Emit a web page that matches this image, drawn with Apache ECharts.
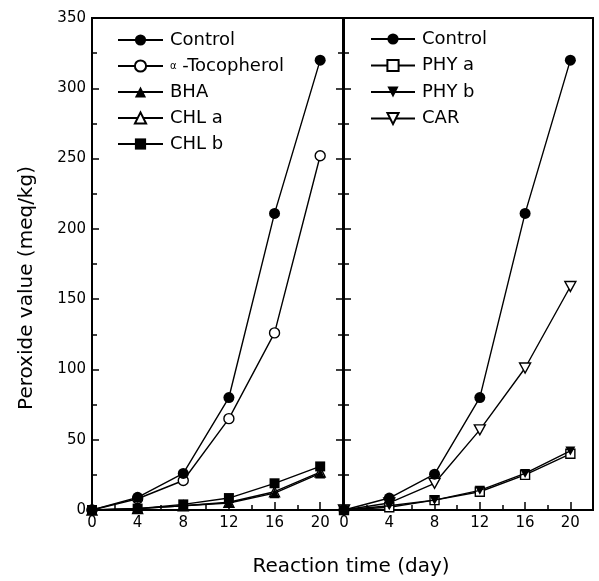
<!DOCTYPE html>
<html>
<head>
<meta charset="utf-8">
<script src="https://cdn.jsdelivr.net/npm/echarts@6/dist/echarts.min.js"></script>
<style>
  html, body { margin: 0; padding: 0; background: #fff; }
  #main { width: 599px; height: 581px; }
</style>
</head>
<body>
<div id="main"></div>
<script>
// reaction days
var days = [0, 4, 8, 12, 16, 20];

// left panel
var control = [0, 9, 26, 80, 211, 320];
var tocopherol = [0, 8, 21, 65, 126, 252];
var bha = [0, 1, 3, 5, 12, 26];
var chlA = [0, 1, 3, 5.5, 13, 27];
var chlB = [0, 1, 4, 8.5, 19, 31];

// right panel
var control2 = [0, 8.5, 25.5, 80, 211, 320];
var phyA = [0, 2, 7, 13, 25, 40];
var phyB = [0, 3, 7, 14, 26, 42];
var car = [0, 5, 19, 57, 101, 159];

var yTicks = [0, 50, 100, 150, 200, 250, 300, 350];
var xTicks = [0, 4, 8, 12, 16, 20];

var invTri = 'path://M0,0L10,0L5,9Z';
var font = 'DejaVu Sans';

function pairs(vals) {
    return days.map(function (d, i) { return [d, vals[i]]; });
}

function mkSeries(name, vals, grid, symbol, hollow, size) {
    return {
        name: name,
        type: 'line',
        xAxisIndex: grid,
        yAxisIndex: grid * 2,
        data: pairs(vals),
        symbol: symbol,
        symbolSize: size || 10,
        symbolKeepAspect: true,
        lineStyle: { color: '#000', width: 1.4 },
        itemStyle: hollow
            ? { color: '#fff', borderColor: '#000', borderWidth: 1.4 }
            : { color: '#000', borderColor: '#000', borderWidth: 0 },
        emphasis: { disabled: true },
        z: hollow ? 3 : 4
    };
}

var chart = echarts.init(document.getElementById('main'));

function xAxisFor(grid) {
    return {
        type: 'value',
        gridIndex: grid,
        min: 0,
        max: 22,
        interval: 4,
        axisLine: { show: true, onZero: false, lineStyle: { color: '#000', width: 2 } },
        axisTick: { show: true, inside: true, length: 8, lineStyle: { color: '#000', width: 1.5 } },
        minorTick: { show: true, splitNumber: 2, length: 5, lineStyle: { color: '#000', width: 1.5 } },
        splitLine: { show: false },
        axisLabel: {
            color: '#000', fontFamily: font, fontSize: 15, margin: 6,
            formatter: function (v) { return xTicks.indexOf(v) >= 0 ? String(v) : ''; }
        }
    };
}

function yAxisFor(grid, position, labels, ticks) {
    return {
        type: 'value',
        gridIndex: grid,
        position: position,
        min: yTicks[0],
        max: yTicks[yTicks.length - 1],
        interval: 50,
        axisLine: { show: true, lineStyle: { color: '#000', width: 2 } },
        axisTick: { show: ticks, inside: true, length: 7, lineStyle: { color: '#000', width: 1.5 } },
        minorTick: { show: ticks, splitNumber: 2, length: 5, lineStyle: { color: '#000', width: 1.5 } },
        splitLine: { show: false },
        axisLabel: { show: labels, color: '#000', fontFamily: font, fontSize: 15, margin: 6 }
    };
}

var legendText = {
    color: '#000', fontFamily: font, fontSize: 18, padding: [0, 0, 0, 2],
    rich: { a: { fontSize: 10, fontFamily: font, color: '#000' } }
};

chart.setOption({
    animation: false,
    backgroundColor: '#fff',
    grid: [
        { left: 92, top: 18, width: 251, height: 492, show: true, borderColor: '#000', borderWidth: 2 },
        { left: 344, top: 18, width: 249, height: 492, show: true, borderColor: '#000', borderWidth: 2 }
    ],
    xAxis: [xAxisFor(0), xAxisFor(1)],
    yAxis: [
        yAxisFor(0, 'left', true, true),
        yAxisFor(0, 'right', false, true),
        yAxisFor(1, 'left', false, true),
        yAxisFor(1, 'right', false, false)
    ],
    legend: [{
        left: 117, top: 31, orient: 'vertical', padding: 0,
        itemWidth: 45, itemHeight: 14, itemGap: 8,
        data: ['Control', 'α -Tocopherol', 'BHA', 'CHL a', 'CHL b'],
        textStyle: legendText,
        formatter: function (n) { return n.charAt(0) === 'α' ? '{a|α} -Tocopherol' : n; }
    }, {
        left: 370, top: 30, orient: 'vertical', padding: 0,
        itemWidth: 44, itemHeight: 14, itemGap: 8.5,
        data: ['Control', 'PHY a', 'PHY b', 'CAR'],
        textStyle: legendText
    }],
    graphic: [{
        type: 'text', x: 27, y: 288, rotation: Math.PI / 2,
        style: {
            text: 'Peroxide value (meq/kg)', fill: '#000',
            font: '20px "DejaVu Sans"', align: 'center', verticalAlign: 'middle'
        }
    }, {
        type: 'text', x: 351, y: 567,
        style: {
            text: 'Reaction time (day)', fill: '#000',
            font: '20px "DejaVu Sans"', align: 'center', verticalAlign: 'middle'
        }
    }],
    series: [
        mkSeries('Control', control, 0, 'circle', false, 11),
        mkSeries('α -Tocopherol', tocopherol, 0, 'circle', true, 10),
        mkSeries('BHA', bha, 0, 'triangle', false, 10),
        mkSeries('CHL a', chlA, 0, 'triangle', true, 10),
        mkSeries('CHL b', chlB, 0, 'rect', false, 10),
        mkSeries('Control', control2, 1, 'circle', false, 11),
        mkSeries('PHY a', phyA, 1, 'rect', true, 9),
        mkSeries('PHY b', phyB, 1, invTri, false, 10),
        mkSeries('CAR', car, 1, invTri, true, 11)
    ]
});
</script>
</body>
</html>
